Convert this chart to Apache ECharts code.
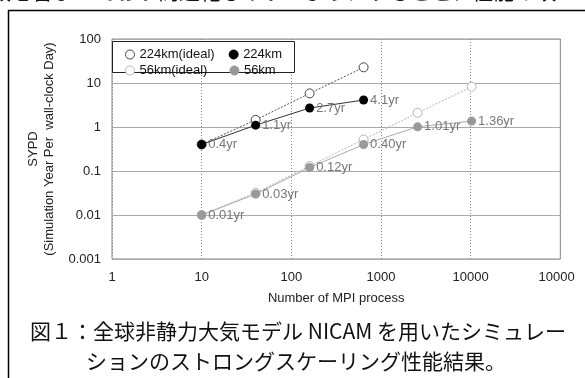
<!DOCTYPE html>
<html>
<head>
<meta charset="utf-8">
<script src="https://cdn.jsdelivr.net/npm/echarts@6/dist/echarts.min.js"></script>
<style>
  html, body { margin: 0; padding: 0; background: #fff; }
  #chart { width: 585px; height: 378px; }
</style>
</head>
<body>
<div id="chart"></div>
<script>
// Number of MPI processes for each run
const procs224 = [10, 40, 160, 640];
const procs56 = [10, 40, 160, 640, 2560, 10240];

// Measured SYPD
const sypd224 = [0.4, 1.1, 2.7, 4.1];
const sypd56 = [0.01, 0.03, 0.12, 0.40, 1.01, 1.36];

// Ideal (linear) scaling
const ideal224 = [0.4, 1.45, 5.8, 22.7];
const ideal56 = [0.01, 0.032, 0.13, 0.52, 2.1, 8.2];

// Axis tick labels, one per decade
const xTickLabels = ['1', '10', '100', '1000', '10000', '100000'];
const yTickLabels = ['0.001', '0.01', '0.1', '1', '10', '100'];

const seriesNames = ['224km(ideal)', '224km', '56km(ideal)', '56km'];

const captionLine1 = '図１：全球非静力大気モデル NICAM を用いたシミュレー';
const captionLine2 = 'ションのストロングスケーリング性能結果。';
const bodyTextAbove = '級を含ませており高速化しやすいようにすること、性能の改';

const pairs = (xs, ys) => xs.map((x, i) => [x, ys[i]]);

const FONT = '"Liberation Sans", Arial, Helvetica, sans-serif';
const JP_FONT = '"Noto Sans CJK JP", sans-serif';

const chart = echarts.init(document.getElementById('chart'), null, { renderer: 'canvas' });

const valueLabel = (digits) => ({
  show: true,
  position: 'right',
  distance: 2,
  color: '#777',
  fontSize: 13,
  fontFamily: FONT,
  formatter: (p) => p.value[1].toFixed(digits) + 'yr'
});

const legendItem = (name, fill, border) => ({
  name: name,
  icon: 'circle',
  itemStyle: { color: fill, borderColor: border, borderWidth: 1 }
});

const option = {
  backgroundColor: '#fff',
  animation: false,
  textStyle: { fontFamily: FONT },
  grid: { left: 112, top: 39, right: 18, bottom: 119, show: true, borderColor: '#888', borderWidth: 1 },
  xAxis: {
    type: 'log',
    logBase: 10,
    min: 1,
    max: 100000,
    name: 'Number of MPI process',
    nameLocation: 'middle',
    nameGap: 33,
    nameTextStyle: { color: '#222', fontSize: 13, fontFamily: FONT },
    axisLine: { show: false },
    axisTick: { show: false },
    axisLabel: {
      color: '#222', fontSize: 13, margin: 12, fontFamily: FONT,
      formatter: (v) => xTickLabels[Math.round(Math.log10(v))]
    },
    splitLine: { show: true, lineStyle: { color: '#888', type: [1, 2], width: 1 } }
  },
  yAxis: {
    type: 'log',
    logBase: 10,
    min: 0.001,
    max: 100,
    name: 'SYPD\n(Simulation Year Per  wall-clock Day)',
    nameLocation: 'middle',
    nameRotate: 90,
    nameGap: 53,
    nameTextStyle: { color: '#222', fontSize: 13, lineHeight: 16, fontFamily: FONT, align: 'center' },
    axisLine: { show: false },
    axisTick: { show: false },
    axisLabel: {
      color: '#222', fontSize: 13, margin: 11, fontFamily: FONT,
      formatter: (v) => yTickLabels[Math.round(Math.log10(v)) + 3]
    },
    splitLine: { show: true, lineStyle: { color: '#aaa', type: 'solid', width: 1 } }
  },
  legend: [
    {
      left: 120, top: 43, itemWidth: 9, itemHeight: 9, itemGap: 14, z: 10,
      textStyle: { color: '#111', fontSize: 13, fontFamily: FONT },
      data: [legendItem(seriesNames[0], '#fff', '#444'), legendItem(seriesNames[1], '#000', '#000')]
    },
    {
      left: 120, top: 59, itemWidth: 9, itemHeight: 9, itemGap: 22, z: 10,
      textStyle: { color: '#111', fontSize: 13, fontFamily: FONT },
      data: [legendItem(seriesNames[2], '#fff', '#bbb'), legendItem(seriesNames[3], '#999', '#999')]
    }
  ],
  series: [
    {
      name: seriesNames[2], type: 'line', z: 2,
      data: pairs(procs56, ideal56),
      symbol: 'circle', symbolSize: 9,
      itemStyle: { color: '#fff', borderColor: '#b5b5b5', borderWidth: 1 },
      lineStyle: { color: '#b5b5b5', width: 1, type: [2, 1.5] }
    },
    {
      name: seriesNames[0], type: 'line', z: 2,
      data: pairs(procs224, ideal224),
      symbol: 'circle', symbolSize: 9,
      itemStyle: { color: '#fff', borderColor: '#444', borderWidth: 1 },
      lineStyle: { color: '#555', width: 1, type: [2, 1.5] }
    },
    {
      name: seriesNames[3], type: 'line', z: 3,
      data: pairs(procs56, sypd56),
      symbol: 'circle', symbolSize: 9,
      itemStyle: { color: '#999' },
      lineStyle: { color: '#aaa', width: 1 },
      label: valueLabel(2)
    },
    {
      name: seriesNames[1], type: 'line', z: 3,
      data: pairs(procs224, sypd224),
      symbol: 'circle', symbolSize: 9,
      itemStyle: { color: '#000' },
      lineStyle: { color: '#333', width: 1 },
      label: valueLabel(1)
    }
  ],
  graphic: [
    // document frame
    { type: 'line', shape: { x1: 8, y1: 10.5, x2: 585, y2: 10.5 }, style: { stroke: '#000', lineWidth: 1.5 } },
    { type: 'line', shape: { x1: 8.5, y1: 10, x2: 8.5, y2: 378 }, style: { stroke: '#000', lineWidth: 1.5 } },
    // legend box
    { type: 'rect', z: 5, shape: { x: 112.5, y: 41.5, width: 182, height: 31 }, style: { fill: '#fff', stroke: '#222', lineWidth: 1 } },
    // right edge of the figure image
    { type: 'rect', z: 20, shape: { x: 575, y: 262, width: 10, height: 28 }, style: { fill: '#fff' } },
    // running text above the figure
    { type: 'text', x: -10, y: -19, style: { text: bodyTextAbove, font: '21px ' + JP_FONT, fill: '#111' } },
    // caption
    { type: 'text', x: 298, y: 331, style: { text: captionLine1, font: '21px ' + JP_FONT, fill: '#111', align: 'center', verticalAlign: 'middle' } },
    { type: 'text', x: 296, y: 361, style: { text: captionLine2, font: '21px ' + JP_FONT, fill: '#111', align: 'center', verticalAlign: 'middle' } }
  ]
};

chart.setOption(option);
</script>
</body>
</html>
